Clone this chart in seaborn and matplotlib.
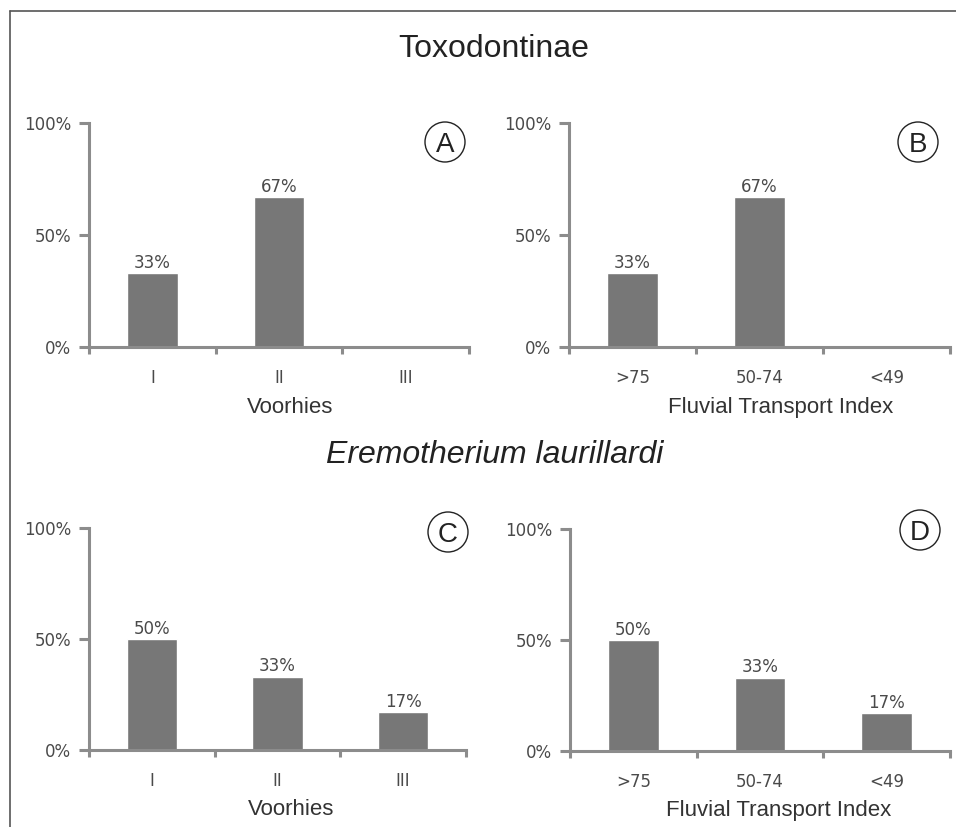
import numpy as np
import pandas as pd
import matplotlib
matplotlib.use("Agg")
import matplotlib.pyplot as plt
import seaborn as sns
from matplotlib.patches import Ellipse
from matplotlib.lines import Line2D

# categories
voorhies_stages = ["I", "II", "III"]
fti_classes = [">75", "50-74", "<49"]

# percentages per panel
toxo_voorhies = [33, 67, 0]
toxo_fti = [33, 67, 0]
erem_voorhies = [50, 33, 17]
erem_fti = [50, 33, 17]

panel_letters = ["A", "B", "C", "D"]
group_titles = ["Toxodontinae", "Eremotherium laurillardi"]
xlabels = ["Voorhies", "Fluvial Transport Index"]

sns.set_style("ticks")
plt.rcParams["font.family"] = ["DejaVu Sans"]

W, H = 956, 827
fig = plt.figure(figsize=(W / 100, H / 100), dpi=100)
fig.patch.set_facecolor("white")

bar_color = "#777777"
axis_color = "#8c8c8c"
text_color = "#4a4a4a"


def px_rect(left, right, top, bottom):
    return [left / W, 1 - bottom / H, (right - left) / W, (bottom - top) / H]


panels = [
    (toxo_voorhies, voorhies_stages, xlabels[0], px_rect(89, 469, 123, 347), 0.53, (445, 142)),
    (toxo_fti, fti_classes, xlabels[1], px_rect(569, 950, 123, 347), 0.555, (918, 142)),
    (erem_voorhies, voorhies_stages, xlabels[0], px_rect(89, 466, 528, 750), 0.535, (448, 532)),
    (erem_fti, fti_classes, xlabels[1], px_rect(570, 950, 529, 751), 0.55, (920, 530)),
]

for i, (vals, cats, xlab, rect, lab_x, circ) in enumerate(panels):
    ax = fig.add_axes(rect)
    df = pd.DataFrame({"cat": cats, "pct": np.array(vals) / 100})
    sns.barplot(data=df, x="cat", y="pct", ax=ax, color=bar_color,
                saturation=1, width=0.4, order=cats)
    for j, v in enumerate(vals):
        if v > 0:
            ax.annotate(f"{v}%", (j, v / 100), xytext=(0, 1), textcoords="offset points",
                        ha="center", va="bottom", fontsize=12, color=text_color)
    ax.set_xlim(-0.5, 2.5)
    ax.set_ylim(0, 1)
    ax.set_yticks([0, 0.5, 1])
    ax.set_yticklabels(["0%", "50%", "100%"])
    ax.set_xticks([-0.5, 0.5, 1.5, 2.5])
    ax.set_xticklabels([])
    ax.set_xticks([0, 1, 2], minor=True)
    ax.set_xticklabels(cats, minor=True)
    ax.tick_params(axis="x", which="major", length=5, width=2.2, color=axis_color, direction="out")
    ax.tick_params(axis="x", which="minor", length=0, pad=16, labelsize=12, labelcolor=text_color)
    ax.tick_params(axis="y", length=7, width=2.2, color=axis_color, pad=6,
                   labelsize=12, labelcolor=text_color)
    ax.set_xlabel("")
    ax.set_ylabel("")
    sns.despine(ax=ax)
    for s in ["left", "bottom"]:
        ax.spines[s].set_color(axis_color)
        ax.spines[s].set_linewidth(2.2)
    ax.text(lab_x, -0.27, xlab, transform=ax.transAxes, ha="center", va="center",
            fontsize=16, family="Liberation Sans", color="#333333")

    # circled panel letter
    cx, cy = circ
    fig.patches.append(Ellipse((cx / W, 1 - cy / H), 40 / W, 40 / H, transform=fig.transFigure,
                               fill=False, ec="#222222", lw=1.0))
    fig.text(cx / W, 1 - cy / H, panel_letters[i], ha="center", va="center_baseline",
             fontsize=20, family="Liberation Sans", color="#222222")

fig.text(494 / W, 1 - 49 / H, group_titles[0], ha="center", va="center",
         fontsize=23, family="Liberation Sans", color="#222222")
fig.text(495 / W, 1 - 455 / H, group_titles[1], ha="center", va="center",
         fontsize=23, family="Liberation Sans", style="italic", color="#222222")

# frame lines on left and top
fig.add_artist(Line2D([10 / W, 10 / W], [0, 1 - 11 / H], transform=fig.transFigure,
                      color="#555555", lw=1.2))
fig.add_artist(Line2D([10 / W, 1], [1 - 11 / H, 1 - 11 / H], transform=fig.transFigure,
                      color="#555555", lw=1.2))

fig.savefig("out.png", dpi=100)
